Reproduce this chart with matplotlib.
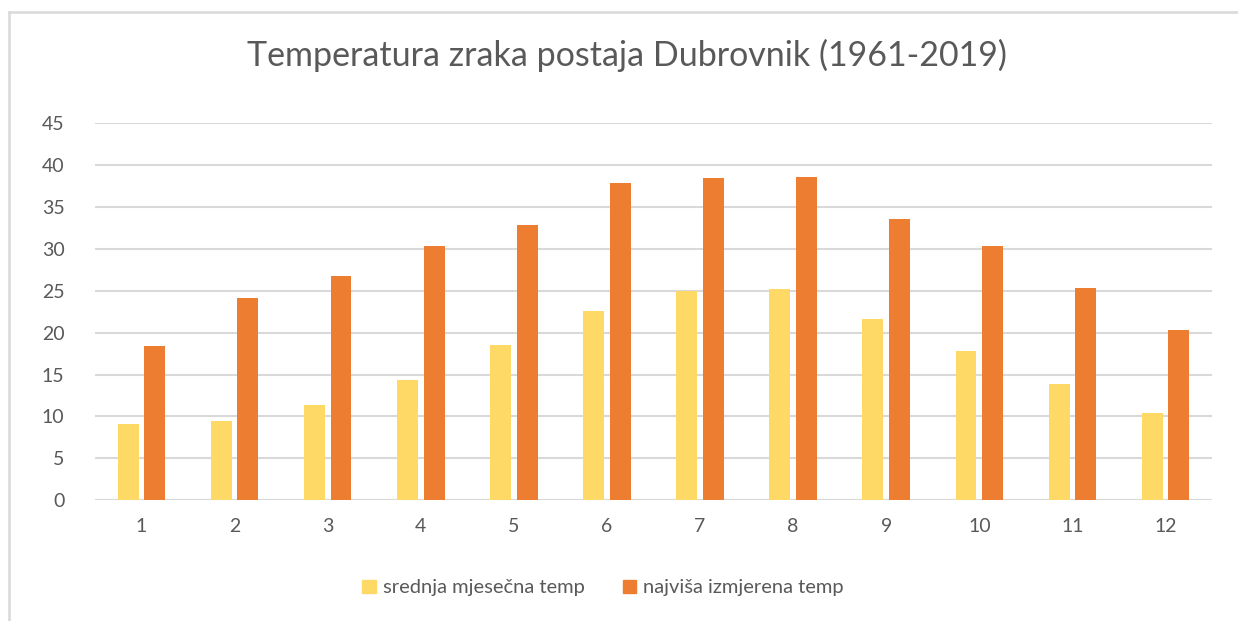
import matplotlib
matplotlib.use("Agg")
import matplotlib.pyplot as plt
from matplotlib.lines import Line2D
from matplotlib.patches import Patch
import numpy as np

# data
months = [1, 2, 3, 4, 5, 6, 7, 8, 9, 10, 11, 12]
mean_temp = [9.1, 9.5, 11.4, 14.3, 18.5, 22.6, 25.0, 25.2, 21.6, 17.8, 13.9, 10.4]
max_temp = [18.4, 24.1, 26.8, 30.3, 32.8, 37.8, 38.4, 38.5, 33.5, 30.3, 25.3, 20.3]
series_labels = ["srednja mjesečna temp", "najviša izmjerena temp"]
title = "Temperatura zraka postaja Dubrovnik (1961-2019)"
yticks = [0, 5, 10, 15, 20, 25, 30, 35, 40, 45]

YELLOW = "#FFD966"
ORANGE = "#ED7D31"
TEXT = "#595959"
GRID = "#D9D9D9"

plt.rcParams["font.family"] = ["Lato", "DejaVu Sans"]

W, H = 1238, 621
fig = plt.figure(figsize=(W / 100, H / 100), dpi=100)
ax = fig.add_axes([95 / W, 1 - 500.3 / H, (1212 - 95) / W, (500.3 - 123) / H])

x = np.arange(len(months))
bw = 0.225
off = 0.143
ax.bar(x - off, mean_temp, width=bw, color=YELLOW, zorder=3)
ax.bar(x + off, max_temp, width=bw, color=ORANGE, zorder=3)

ax.set_xlim(-0.5, len(months) - 0.5)
ax.set_ylim(0, 45)
ax.set_yticks(yticks)
ax.set_xticks(x)
ax.set_xticklabels([str(m) for m in months])
ax.tick_params(axis="both", length=0, labelsize=14, labelcolor=TEXT)
ax.tick_params(axis="y", pad=22)
ax.tick_params(axis="x", pad=13)
ax.yaxis.grid(True, color=GRID, linewidth=1.5, zorder=0)
for s in ax.spines.values():
    s.set_visible(False)
ax.axhline(0, color=GRID, linewidth=1.5, zorder=2)

fig.text(627 / W, 1 - 55 / H, title, ha="center", va="center",
         fontsize=24.5, color=TEXT)

handles = [Patch(color=YELLOW), Patch(color=ORANGE)]
fig.legend(handles, series_labels, loc="center", bbox_to_anchor=(603 / W, 1 - 588 / H),
           ncol=2, frameon=False, fontsize=14.5, labelcolor=TEXT,
           handlelength=0.65, handleheight=0.65, handletextpad=0.35, columnspacing=1.9)

# light chart-area frame (left and top edges visible)
fig.add_artist(Line2D([8.5 / W, 8.5 / W], [0, 1 - 11.5 / H], color=GRID, linewidth=1.8))
fig.add_artist(Line2D([8.5 / W, 1], [1 - 11.5 / H, 1 - 11.5 / H], color=GRID, linewidth=1.8))

fig.savefig("out.png", dpi=100, facecolor="white")
